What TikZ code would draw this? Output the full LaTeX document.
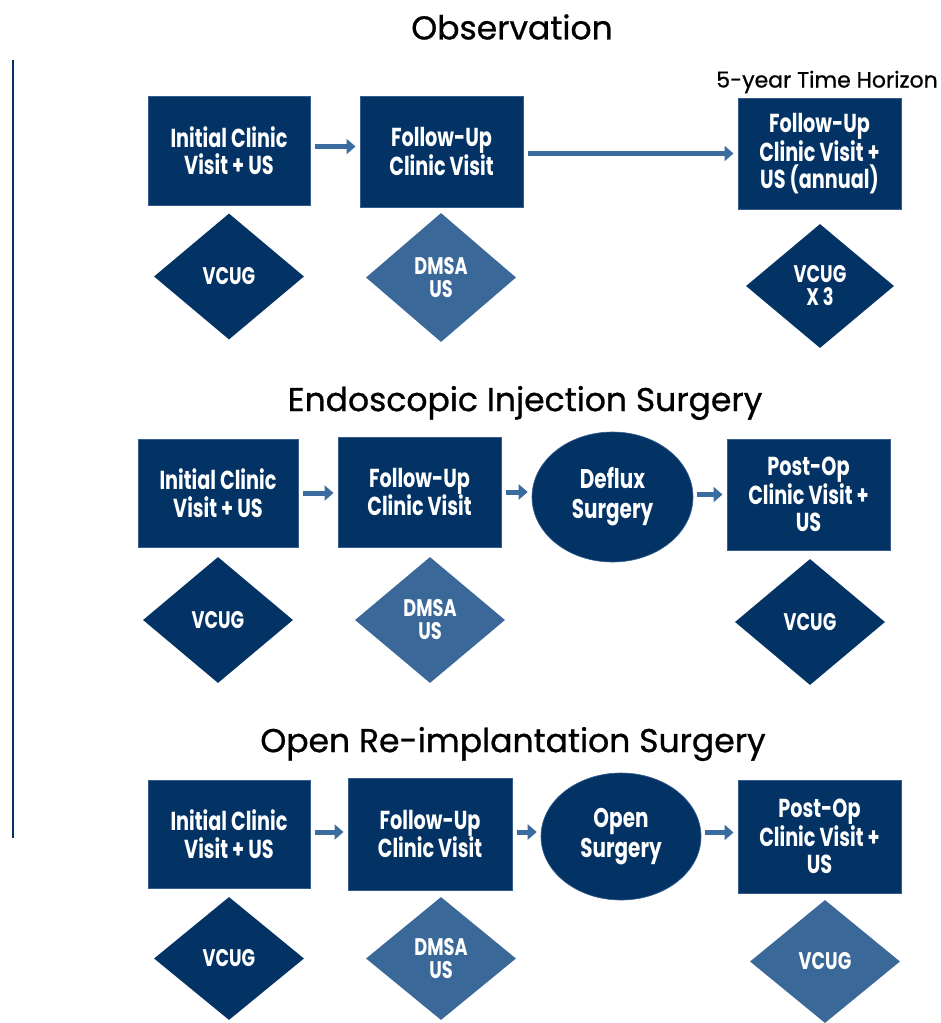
\documentclass[tikz,border=0pt]{standalone}
\usepackage{fontspec}
\setmainfont{Poppins}
\newfontfamily\boxfont[FakeStretch=0.74]{Poppins}
\newfontfamily\titlefont[FakeStretch=1.0,FakeBold=0.8]{Poppins}
\usetikzlibrary{shapes.geometric,arrows.meta,calc}
\definecolor{navy}{RGB}{3,51,101}
\definecolor{lightnavy}{RGB}{58,104,152}
\definecolor{edge}{RGB}{52,92,140}
\definecolor{flowblue}{RGB}{59,108,160}
\begin{document}
\begin{tikzpicture}[x=1pt,y=-1pt,
  stepbox/.style={rectangle,fill=navy,draw=edge,line width=1pt,inner sep=0pt,
    text=white,align=center,font=\boxfont\bfseries\fontsize{26}{27.5}\selectfont},
  oval/.style={ellipse,fill=navy,draw=edge,line width=0.6pt,inner sep=0pt,
    text=white,align=center,font=\boxfont\bfseries\fontsize{27}{30}\selectfont},
  testdark/.style={diamond,fill=navy,inner sep=0pt,minimum width=150pt,minimum height=126pt,
    text=white,align=center,font=\boxfont\bfseries\fontsize{24}{23}\selectfont},
  testlight/.style={testdark,fill=lightnavy},
  flow/.style={line width=5pt,draw=flowblue,-{Triangle[length=9pt,width=15pt]},shorten <=4pt,shorten >=4pt},
  heading/.style={font=\titlefont\fontsize{33}{38}\selectfont,text=black},
]
\useasboundingbox (0,0) rectangle (941,1023);
\fill[white] (0,0) rectangle (941,1023);
% left rule
\coordinate (lt) at (13,60);
\coordinate (lb) at (13,838);
\draw[navy,line width=2pt] (lt) -- (lb);

% ---------- Observation ----------
\node[heading] (t1) at (512,27) {Observation};
\node[font=\titlefont\fontsize{22}{24}\selectfont] (hor) at (827,82) {5-year Time Horizon};
\node[stepbox,minimum width=162pt,minimum height=109pt] (a1) at (229,150.5) {Initial Clinic\\Visit + US};
\node[stepbox,minimum width=163pt,minimum height=111pt] (a2) at (441.5,151.5) {Follow-Up\\Clinic Visit};
\node[stepbox,minimum width=163pt,minimum height=111pt] (a3) at (819.5,153.5) {Follow-Up\\Clinic Visit +\\US (annual)};
\draw[flow] ($(a1.east)+(0,-4)$) -- ($(a1.east -| a2.west)+(0,-4)$);
\draw[flow] (a2.east |- a3.west) -- (a3.west);
\node[testdark] (d1) at (229,276.5) {VCUG};
\node[testlight,minimum height=129pt] (d2) at (441,277.5) {DMSA\\US};
\node[testdark,minimum width=148pt,minimum height=124pt] (d3) at (820,286) {VCUG\\X 3};

% ---------- Endoscopic ----------
\node[heading] (t2) at (525,403) {Endoscopic Injection Surgery};
\node[stepbox,minimum width=160pt,minimum height=108pt] (b1) at (218,493) {Initial Clinic\\Visit + US};
\node[stepbox,minimum width=163pt,minimum height=110pt] (b2) at (419.5,492) {Follow-Up\\Clinic Visit};
\node[oval,minimum width=161pt,minimum height=130pt] (b3) at (612.5,497) {Deflux\\Surgery};
\node[stepbox,minimum width=163pt,minimum height=111pt] (b4) at (808.5,494.5) {Post-Op\\Clinic Visit +\\US};
\draw[flow] (b1.east) -- (b1.east -| b2.west);
\draw[flow] (b2.east) -- (b2.east -| b3.west);
\draw[flow] (b3.east |- b4.west) -- (b4.west);
\node[testdark] (e1) at (218,620) {VCUG};
\node[testlight] (e2) at (430,620) {DMSA\\US};
\node[testdark] (e3) at (810,622) {VCUG};

% ---------- Open ----------
\node[heading] (t3) at (513,744) {Open Re-implantation Surgery};
\node[stepbox,minimum width=162pt,minimum height=108pt] (c1) at (229,834) {Initial Clinic\\Visit + US};
\node[stepbox,minimum width=164pt,minimum height=112pt] (c2) at (430,834) {Follow-Up\\Clinic Visit};
\node[oval,minimum width=160pt,minimum height=127pt] (c3) at (621,836.5) {Open\\Surgery};
\node[stepbox,minimum width=163pt,minimum height=113pt] (c4) at (819.5,836.5) {Post-Op\\Clinic Visit +\\US};
\draw[flow] ($(c1.east)+(0,-2)$) -- ($(c1.east -| c2.west)+(0,-2)$);
\draw[flow] ($(c2.east)+(0,-2)$) -- ($(c2.east -| c3.west)+(0,-2)$);
\draw[flow] ($(c3.east |- c4.west)+(0,-4)$) -- ($(c4.west)+(0,-4)$);
\node[testdark,minimum height=123pt] (f1) at (229,958.5) {VCUG};
\node[testlight,minimum height=123pt] (f2) at (441,958.5) {DMSA\\US};
\node[testlight,minimum height=123pt] (f3) at (825,961.5) {VCUG};
\end{tikzpicture}
\end{document}
